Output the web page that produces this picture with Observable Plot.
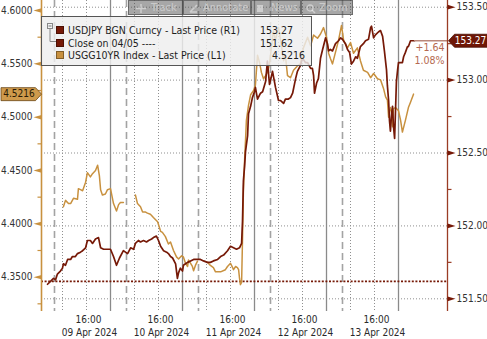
<!DOCTYPE html>
<html><head><meta charset="utf-8">
<script src="https://cdn.jsdelivr.net/npm/d3@7"></script>
<script src="https://cdn.jsdelivr.net/npm/@observablehq/plot@0.6"></script>
<style>
body{margin:0;background:#fff;}
#wrap{position:relative;width:487px;height:339px;overflow:hidden;font-family:"DejaVu Sans Condensed","DejaVu Sans",sans-serif;font-stretch:condensed;}
#wrap svg text{font-stretch:condensed;}
#legend{position:absolute;left:41px;top:16px;width:271px;height:50px;box-sizing:border-box;border:1px solid #555;background:rgba(238,238,238,0.82);font-size:10.5px;color:#1e1e1e;}
#legend .row{position:absolute;left:0;height:12px;line-height:12px;width:100%;}
#legend .sw{position:absolute;left:14px;top:2px;width:8px;height:8px;box-sizing:border-box;border:1px solid rgba(0,0,0,0.35);}
#legend .lab{position:absolute;left:26px;top:0;white-space:nowrap;}
#legend .val{position:absolute;top:0;white-space:nowrap;text-align:right;}
#toolbar{position:absolute;left:128px;top:0;height:15px;}
#toolbar .btn{position:absolute;top:0;height:15px;box-sizing:border-box;background:rgba(80,80,80,0.5);border:1px solid rgba(60,60,60,0.55);color:rgba(255,255,255,0.42);font-size:11px;line-height:13px;white-space:nowrap;}
#toolbar .btn span{position:absolute;top:0;}
#toolbar svg{position:absolute;top:3px;}
</style></head><body><div id="wrap"></div>
<script>
// ---- data ----
// time axis in hours since 09 Apr 2024 00:00
const jpyTime = [3.0,4.0,5.0,5.7,6.3,7.3,8.0,8.3,9.0,9.7,10.7,11.3,12.3,13.0,14.0,14.7,15.7,16.3,17.3,18.0,19.0,20.0,20.7,21.7,22.3,24.0,25.0,26.0,27.0,28.3,29.0,29.7,30.7,31.7,32.3,33.3,34.0,35.0,36.0,36.7,37.7,38.3,39.3,40.0,40.7,41.7,42.7,43.3,44.0,44.7,45.7,46.3,46.7,47.3,48.0,48.3,49.0,49.7,50.7,51.7,53.0,54.0,55.0,56.3,57.3,58.3,59.7,60.7,61.7,63.0,64.0,65.0,66.0,67.0,67.7,68.0,68.3,68.7,69.0,69.7,70.0,70.7,71.3,72.0,72.3,73.0,74.0,74.7,75.7,76.3,77.0,78.0,79.0,80.0,80.7,81.7,82.3,83.3,84.0,84.7,85.7,86.3,87.3,88.0,89.0,89.7,90.7,91.3,91.7,92.0,92.7,93.3,94.0,94.7,95.7,96.3,96.7,97.3,98.0,99.0,100.0,100.7,101.3,102.3,103.0,103.7,104.3,105.0,105.7,106.3,107.3,108.3,109.0,110.0,110.7,111.0,111.7,112.3,113.3,114.0,114.7,115.3,116.0,116.3,116.7,117.0,117.3,117.7,118.0,118.3,118.7,119.0,119.3,119.7,120.0,120.7,121.3,121.7,122.3,123.0,123.3,124.0,124.7,125.3];
const jpyValue = [151.60,151.62,151.64,151.63,151.67,151.69,151.71,151.74,151.73,151.77,151.77,151.79,151.79,151.81,151.82,151.83,151.85,151.90,151.90,151.88,151.91,151.92,151.85,151.84,151.84,151.84,151.79,151.73,151.78,151.83,151.82,151.81,151.85,151.84,151.88,151.90,151.89,151.90,151.89,151.90,151.91,151.92,151.93,151.90,151.86,151.83,151.82,151.81,151.79,151.78,151.74,151.64,151.68,151.71,151.69,151.73,151.74,151.75,151.76,151.77,151.77,151.77,151.76,151.75,151.75,151.76,151.77,151.79,151.80,151.83,151.86,151.85,151.84,151.85,151.88,152.03,152.31,152.41,152.51,152.62,152.77,152.82,152.88,152.92,152.95,152.87,152.91,152.92,152.99,153.13,152.97,153.06,152.95,152.86,152.86,152.84,152.87,152.87,152.88,152.91,153.01,153.06,153.10,153.15,153.12,153.12,153.08,153.08,153.03,152.91,152.98,153.01,153.15,153.21,153.29,153.25,153.20,153.21,153.20,153.25,153.27,153.29,153.28,153.25,153.21,153.19,153.11,153.13,153.16,153.15,153.23,153.25,153.27,153.28,153.36,153.37,153.29,153.31,153.33,153.34,153.30,153.20,153.07,152.96,152.86,152.72,152.65,152.77,152.82,152.69,152.60,152.79,152.99,153.07,153.12,153.12,153.12,153.16,153.19,153.23,153.23,153.27,153.27,153.27];
const yldTime = [8.3,9.0,10.0,10.7,11.7,13.0,13.3,14.0,14.7,15.7,16.3,17.3,18.0,19.0,19.7,20.3,20.7,21.3,22.3,23.0,24.0,25.0,26.0,26.7,27.3,28.3,30.0,32.3,33.0,34.0,34.7,35.7,36.3,37.3,38.3,39.7,40.7,41.3,42.3,43.3,44.0,45.0,46.0,46.7,47.7,48.3,49.0,49.7,50.0,50.7,51.3,51.7,52.3,53.0,55.0,56.3,57.3,58.3,59.0,59.7,60.7,62.3,63.0,64.0,64.7,65.0,65.7,66.3,66.7,67.0,67.3,67.7,68.0,68.3,68.7,69.0,69.3,70.0,70.7,71.7,72.3,73.0,73.7,74.3,75.0,75.7,76.3,77.0,77.7,78.3,79.0,79.7,80.0,80.7,81.7,82.3,83.0,84.0,85.0,86.3,87.3,88.3,89.7,90.7,91.7,93.0,94.0,95.0,96.0,96.7,97.3,98.0,99.0,100.0,101.0,101.7,103.0,104.0,105.0,106.3,107.3,108.3,109.7,110.7,111.7,113.0,114.0,115.0,115.7,116.3,116.7,117.3,117.7,118.0,118.3,119.0,120.0,120.7,121.3,122.3,123.3,124.0,125.0];
const yldValue = [4.416,4.422,4.419,4.419,4.424,4.423,4.433,4.432,4.431,4.439,4.448,4.444,4.447,4.450,4.455,4.445,4.432,4.427,4.428,4.432,4.433,4.419,4.412,4.418,4.420,4.420,null,4.427,4.419,4.416,4.411,4.411,4.410,4.409,4.406,4.402,4.393,4.392,4.388,4.381,4.383,4.375,4.369,4.367,4.370,4.369,4.363,4.360,4.366,4.363,4.360,4.356,4.361,4.365,null,4.364,4.361,4.359,4.355,4.355,4.355,4.357,4.360,4.363,4.359,4.357,4.360,4.359,4.357,4.349,4.343,4.345,4.385,4.431,4.460,4.478,4.497,4.511,4.521,4.525,4.530,4.558,4.551,4.542,4.536,4.539,4.542,4.550,4.567,4.581,4.572,4.581,4.584,4.572,4.553,4.558,4.539,4.537,4.544,4.548,4.550,4.565,4.575,4.567,4.577,4.574,4.578,4.584,4.575,4.560,4.555,4.550,4.561,4.572,4.586,4.572,4.565,4.570,4.560,4.565,4.553,4.544,4.542,4.537,4.541,4.536,4.535,4.527,4.519,4.516,4.500,4.509,4.505,4.491,4.508,4.509,4.506,4.497,4.486,4.497,4.509,4.514,4.5216];
const closeValue = 151.62;
const lastJpy = 153.27;
const lastYld = 4.5216;
const changeText = "+1.64";
const changePct = "1.08%";
const jpyTicks = [151.5,152.0,152.5,153.0,153.5];
const jpyMinor = [151.75,152.25,152.75,153.25];
const yldTicks = [4.35,4.40,4.45,4.50,4.55,4.60];
const yldMinor = [4.325,4.375,4.425,4.475,4.525,4.575];
const labelHours = [16,40,64,88,112];
const timeLabels = ["16:00","16:00","16:00","16:00","16:00"];
const dayLabels = ["09 Apr 2024","10 Apr 2024","11 Apr 2024","12 Apr 2024","13 Apr 2024"];
const dayStarts = [24,48,72,96,120];
const sessionBreaks = [5.33,29.33,53.33,77.33,101.33];
const gridHours = [8,16,32,40,56,64,80,88,104,112];
const legendLabels = ["USDJPY BGN Curncy - Last Price (R1)","Close on 04/05 ----","USGG10YR Index - Last Price (L1)"];
const toolbarLabels = ["Track","Annotate","News","Zoom"];

// ---- scales ----
const xDomain = [1, 136.33];
const jpyDomain = [151.413, 153.546];
const yldDomain = [4.3178, 4.6094];
const toJpy = v => jpyDomain[0] + (v - yldDomain[0]) / (yldDomain[1] - yldDomain[0]) * (jpyDomain[1] - jpyDomain[0]);
const toYld = j => yldDomain[0] + (j - jpyDomain[0]) / (jpyDomain[1] - jpyDomain[0]) * (yldDomain[1] - yldDomain[0]);

const n1 = Math.min(jpyTime.length, jpyValue.length);
const jpy = d3.range(n1).map(i => ({t: jpyTime[i], v: jpyValue[i]}));
const n2 = Math.min(yldTime.length, yldValue.length);
const yld = d3.range(n2).map(i => ({t: yldTime[i], v: yldValue[i]}));

const RED = "#761907", TAN = "#c8913f", AXRED = "#9a3c25";

const triRight = {draw(c){c.moveTo(0,-2.4);c.lineTo(8,0);c.lineTo(0,2.4);c.closePath();}};
const triLeft = {draw(c){c.moveTo(0,-2.2);c.lineTo(-8,0);c.lineTo(0,2.2);c.closePath();}};
const minRight = {draw(c){c.rect(0,-0.6,4,1.2);}};
const minLeft = {draw(c){c.rect(-4,-0.6,4,1.2);}};
const badgeLeft = {draw(c){c.moveTo(-40.5,-6.5);c.lineTo(-6,-6.5);c.lineTo(0,0);c.lineTo(-6,6.5);c.lineTo(-40.5,6.5);c.closePath();}};
const badgeRight = {draw(c){c.moveTo(1,0);c.lineTo(7,-6.5);c.lineTo(45,-6.5);c.lineTo(45,6.5);c.lineTo(7,6.5);c.closePath();}};
const lastT = jpy[jpy.length-1].t;

const chart = Plot.plot({
  width: 487, height: 339,
  marginLeft: 41, marginRight: 40, marginTop: 0, marginBottom: 28,
  x: {domain: xDomain, axis: null},
  y: {domain: jpyDomain, axis: null},
  style: {fontFamily: "'DejaVu Sans Condensed','DejaVu Sans',sans-serif", fontSize: "10px", background: "#fff", overflow: "visible"},
  marks: [
    Plot.ruleY(jpyTicks, {stroke: "#8f8f8f", strokeDasharray: "1,2", strokeWidth: 1}),
    Plot.ruleX(gridHours, {stroke: "#8f8f8f", strokeDasharray: "1,2", strokeWidth: 1}),
    Plot.ruleX(sessionBreaks, {stroke: "#a3a3a3", strokeDasharray: "7,4", strokeWidth: 1.6}),
    Plot.ruleX(dayStarts, {stroke: "#8a8a8a", strokeWidth: 1.3}),
    Plot.ruleY([closeValue], {stroke: RED, strokeDasharray: "2,1.6", strokeWidth: 1.7}),
    Plot.line(yld, {x: "t", y: d => d.v == null ? NaN : toJpy(d.v), stroke: TAN, strokeWidth: 1.5}),
    Plot.line(jpy, {x: "t", y: "v", stroke: RED, strokeWidth: 1.7}),
    Plot.ruleY([lastJpy], {x1: lastT, x2: xDomain[1], stroke: "#b9877a", strokeWidth: 1.5}),
    // axis lines
    Plot.ruleX([xDomain[0]], {stroke: TAN, strokeWidth: 1.6}),
    Plot.ruleX([xDomain[1]], {stroke: AXRED, strokeWidth: 1.3}),
    // ticks
    Plot.dot(yldTicks, {x: () => xDomain[0], y: d => toJpy(d), symbol: triLeft, fill: TAN, stroke: null}),
    Plot.dot(yldMinor, {x: () => xDomain[0], y: d => toJpy(d), symbol: minLeft, fill: TAN, stroke: null}),
    Plot.dot(jpyTicks, {x: () => xDomain[1], y: d => d, symbol: triRight, fill: RED, stroke: null}),
    Plot.dot(jpyMinor, {x: () => xDomain[1], y: d => d, symbol: minRight, fill: AXRED, stroke: null}),
    // axis labels
    Plot.axisY(yldTicks.map(toJpy), {anchor: "left", tickSize: 0, tickPadding: 9, label: null, fill: "#333", tickFormat: d => toYld(d).toFixed(4)}),
    Plot.axisY(jpyTicks, {anchor: "right", tickSize: 0, tickPadding: 9, label: null, fill: "#333", tickFormat: d => d.toFixed(2)}),
    Plot.axisX(labelHours, {anchor: "bottom", tickSize: 0, tickPadding: 4, dx: 2, label: null, fill: "#2a2a2a", tickFormat: d => timeLabels[labelHours.indexOf(d)]}),
    Plot.axisX(labelHours, {anchor: "bottom", tickSize: 0, tickPadding: 17, dx: 3, label: null, fill: "#2a2a2a", tickFormat: d => dayLabels[labelHours.indexOf(d)]}),
    // last value badges
    Plot.dot([lastYld], {x: () => xDomain[0], y: d => toJpy(d), symbol: badgeLeft, fill: "#cf9a4c", stroke: "#6a4717", strokeWidth: 0.8}),
    Plot.text([lastYld], {x: () => xDomain[0], y: d => toJpy(d), text: d => d.toFixed(4), dx: -22.5, fill: "#2a1a05", fontSize: 10}),
    Plot.dot([lastJpy], {x: () => xDomain[1], y: d => d, symbol: badgeRight, fill: "#6e1606", stroke: "#4a0e03", strokeWidth: 0.8}),
    Plot.text([lastJpy], {x: () => xDomain[1], y: d => d, text: d => d.toFixed(2), dx: 23, fill: "#fff", fontSize: 10}),
    Plot.text([changeText], {x: () => xDomain[1], y: () => lastJpy, text: d => d, dx: -3, dy: 7, textAnchor: "end", fill: "#b5694f", fontSize: 10.5}),
    Plot.text([changePct], {x: () => xDomain[1], y: () => lastJpy, text: d => d, dx: -3, dy: 20, textAnchor: "end", fill: "#b5694f", fontSize: 10.5})
  ]
});

const wrap = document.getElementById("wrap");
wrap.appendChild(chart);

// legend box
const legend = document.createElement("div");
legend.id = "legend";
const swCols = [RED, RED, TAN];
const vals = [lastJpy.toFixed(2), closeValue.toFixed(2), lastYld.toFixed(4)];
const valRight = [18, 18, 6];
legendLabels.forEach((lab, i) => {
  const row = document.createElement("div");
  row.className = "row";
  row.style.top = (7 + i * 12.6) + "px";
  row.innerHTML = `<div class="sw" style="background:${swCols[i]}"></div><div class="lab">${lab}</div><div class="val" style="right:${valRight[i]}px">${vals[i]}</div>`;
  legend.appendChild(row);
});
legend.insertAdjacentHTML("beforeend",
  `<svg style="position:absolute;left:5px;top:6px" width="10" height="22"><rect x="0.5" y="0.5" width="5" height="5" fill="#f4f4f4" stroke="#888"/><line x1="1.5" y1="3" x2="4.5" y2="3" stroke="#777"/><line x1="3" y1="6" x2="3" y2="18.5" stroke="#888"/><line x1="3" y1="18.5" x2="9" y2="18.5" stroke="#888"/></svg>`);
wrap.appendChild(legend);

// toolbar
const tb = document.createElement("div");
tb.id = "toolbar";
const btnX = [0, 55, 123, 173];
const btnW = [55, 68, 50, 52];
const txtX = [22, 19, 19, 17];
const icons = [
  `<svg style="left:7px" width="10" height="9"><path d="M5 0 L5 9 M0 4.5 L10 4.5" stroke="rgba(255,255,255,0.45)" stroke-width="1.5"/></svg>`,
  `<svg style="left:5px" width="9" height="9"><path d="M1 8 L8 1 M1 8 L8 8" stroke="rgba(255,255,255,0.45)" stroke-width="1.5"/></svg>`,
  `<svg style="left:4px" width="8" height="9"><rect x="1" y="1" width="6" height="7" fill="rgba(255,255,255,0.45)"/></svg>`,
  `<svg style="left:4px" width="10" height="10"><circle cx="4" cy="4" r="3" fill="none" stroke="rgba(255,255,255,0.45)" stroke-width="1.3"/><path d="M6 6 L9 9" stroke="rgba(255,255,255,0.45)" stroke-width="1.5"/></svg>`
];
toolbarLabels.forEach((lab, i) => {
  const b = document.createElement("div");
  b.className = "btn";
  b.style.left = btnX[i] + "px";
  b.style.width = btnW[i] + "px";
  b.innerHTML = icons[i] + `<span style="left:${txtX[i]}px">${lab}</span>`;
  tb.appendChild(b);
});
wrap.appendChild(tb);
</script>
</body></html>
